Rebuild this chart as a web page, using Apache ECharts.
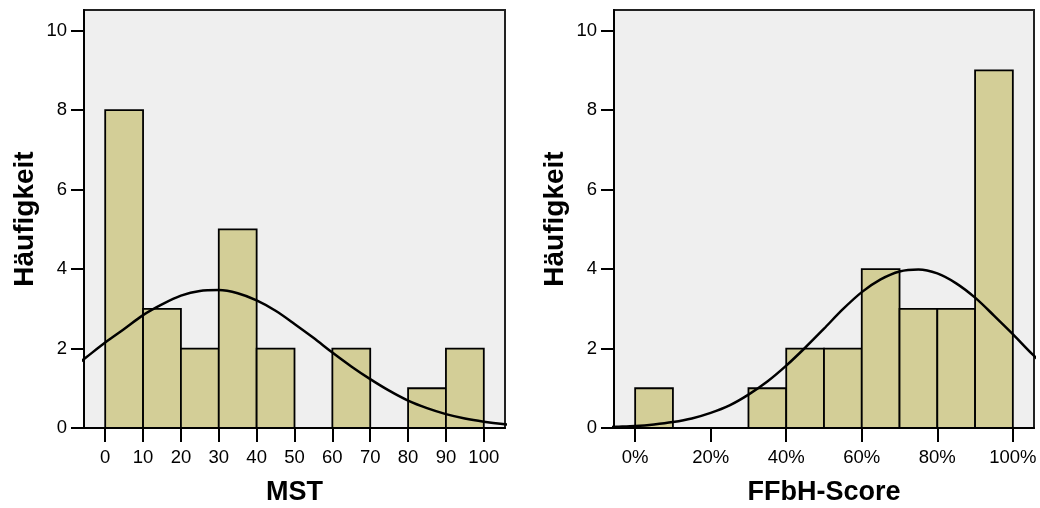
<!DOCTYPE html>
<html>
<head>
<meta charset="utf-8">
<script src="https://cdn.jsdelivr.net/npm/echarts@6/dist/echarts.min.js"></script>
<style>
  html, body { margin: 0; padding: 0; background: #fff; }
  #chart { width: 1040px; height: 508px; }
</style>
</head>
<body>
<div id="chart"></div>
<script>
// Histogram bins (lower edges, width 10) and counts
const binStarts = [0, 10, 20, 30, 40, 50, 60, 70, 80, 90];
const binWidth = 10;
const mstCounts = [8, 3, 2, 5, 2, 0, 2, 0, 1, 2];
const ffbhCounts = [1, 0, 0, 1, 2, 2, 4, 3, 3, 9];

// Normal curve heights read at evenly spaced x positions (clipped to the plot)
const curveX = [-10, -5, 0, 5, 10, 15, 20, 25, 30, 35, 40, 45, 50, 55, 60, 65, 70, 75, 80, 85, 90, 95, 100, 105, 110];
const mstCurve = [1.41, 1.78, 2.15, 2.49, 2.84, 3.11, 3.33, 3.45, 3.47, 3.39, 3.21, 2.95, 2.62, 2.27, 1.90, 1.55, 1.23, 0.94, 0.69, 0.50, 0.35, 0.24, 0.16, 0.10, 0.06];
const ffbhCurve = [0.01, 0.03, 0.05, 0.09, 0.15, 0.24, 0.38, 0.57, 0.84, 1.17, 1.57, 2.02, 2.50, 2.99, 3.42, 3.74, 3.94, 3.99, 3.89, 3.64, 3.28, 2.83, 2.36, 1.87, 1.44];

// Axis ticks
const xTicks = [0, 10, 20, 30, 40, 50, 60, 70, 80, 90, 100];
const xTicksPct = [0, 20, 40, 60, 80, 100];
const yTicks = [0, 2, 4, 6, 8, 10];

const xMin = -5.6, xMax = 105.6, yMax = 10.52;
const FONT = "'Liberation Sans', Arial, sans-serif";

function histData(counts) {
  return binStarts.map((s, i) => [s, s + binWidth, counts[i]]).filter(d => d[2] > 0);
}
function curveData(ys) {
  return curveX.map((x, i) => [x, ys[i]]);
}

function renderBar(params, api) {
  const p0 = api.coord([api.value(0), 0]);
  const p1 = api.coord([api.value(1), api.value(2)]);
  return {
    type: 'rect',
    shape: { x: p0[0], y: p1[1], width: p1[0] - p0[0], height: p0[1] - p1[1] },
    style: { fill: '#d3ce97', stroke: '#000', lineWidth: 1.8 }
  };
}

function xAxisDef(idx, name, ticks, fmt) {
  return {
    type: 'value', gridIndex: idx, min: xMin, max: xMax,
    name: name, nameLocation: 'middle', nameGap: 51,
    nameTextStyle: { fontFamily: FONT, fontSize: 27, fontWeight: 'bold', color: '#000' },
    axisLine: { show: true, onZero: false, lineStyle: { color: '#000', width: 2 } },
    axisTick: { show: true, inside: false, length: 14, customValues: ticks, lineStyle: { color: '#000', width: 2 } },
    axisLabel: { customValues: ticks, margin: 20.5, fontFamily: FONT, fontSize: 18.5, color: '#000', formatter: fmt },
    splitLine: { show: false }
  };
}
function yAxisDef(idx) {
  return {
    type: 'value', gridIndex: idx, min: 0, max: yMax,
    name: 'Häufigkeit', nameLocation: 'middle', nameGap: 45,
    nameTextStyle: { fontFamily: FONT, fontSize: 28, fontWeight: 'bold', color: '#000' },
    axisLine: { show: true, onZero: false, lineStyle: { color: '#000', width: 2 } },
    axisTick: { show: true, inside: false, length: 13, customValues: yTicks, lineStyle: { color: '#000', width: 2 } },
    axisLabel: { customValues: yTicks, margin: 17, fontFamily: FONT, fontSize: 18.5, color: '#000' },
    splitLine: { show: false }
  };
}

const gridBase = {
  top: 10, height: 418, containLabel: false, outerBoundsMode: 'none',
  show: true, backgroundColor: '#efefef', borderColor: '#222', borderWidth: 2
};

const chart = echarts.init(document.getElementById('chart'), null, { renderer: 'canvas' });
chart.setOption({
  animation: false,
  grid: [
    Object.assign({ left: 84, width: 421 }, gridBase),
    Object.assign({ left: 614, width: 420 }, gridBase)
  ],
  xAxis: [
    xAxisDef(0, 'MST', xTicks, '{value}'),
    xAxisDef(1, 'FFbH-Score', xTicksPct, '{value}%')
  ],
  yAxis: [yAxisDef(0), yAxisDef(1)],
  series: [
    { type: 'custom', xAxisIndex: 0, yAxisIndex: 0, renderItem: renderBar, data: histData(mstCounts), clip: true },
    { type: 'custom', xAxisIndex: 1, yAxisIndex: 1, renderItem: renderBar, data: histData(ffbhCounts), clip: true },
    { type: 'line', xAxisIndex: 0, yAxisIndex: 0, data: curveData(mstCurve), smooth: 0.3, showSymbol: false, clip: true,
      lineStyle: { color: '#000', width: 2.5 } },
    { type: 'line', xAxisIndex: 1, yAxisIndex: 1, data: curveData(ffbhCurve), smooth: 0.3, showSymbol: false, clip: true,
      lineStyle: { color: '#000', width: 2.5 } }
  ]
});
</script>
</body>
</html>
